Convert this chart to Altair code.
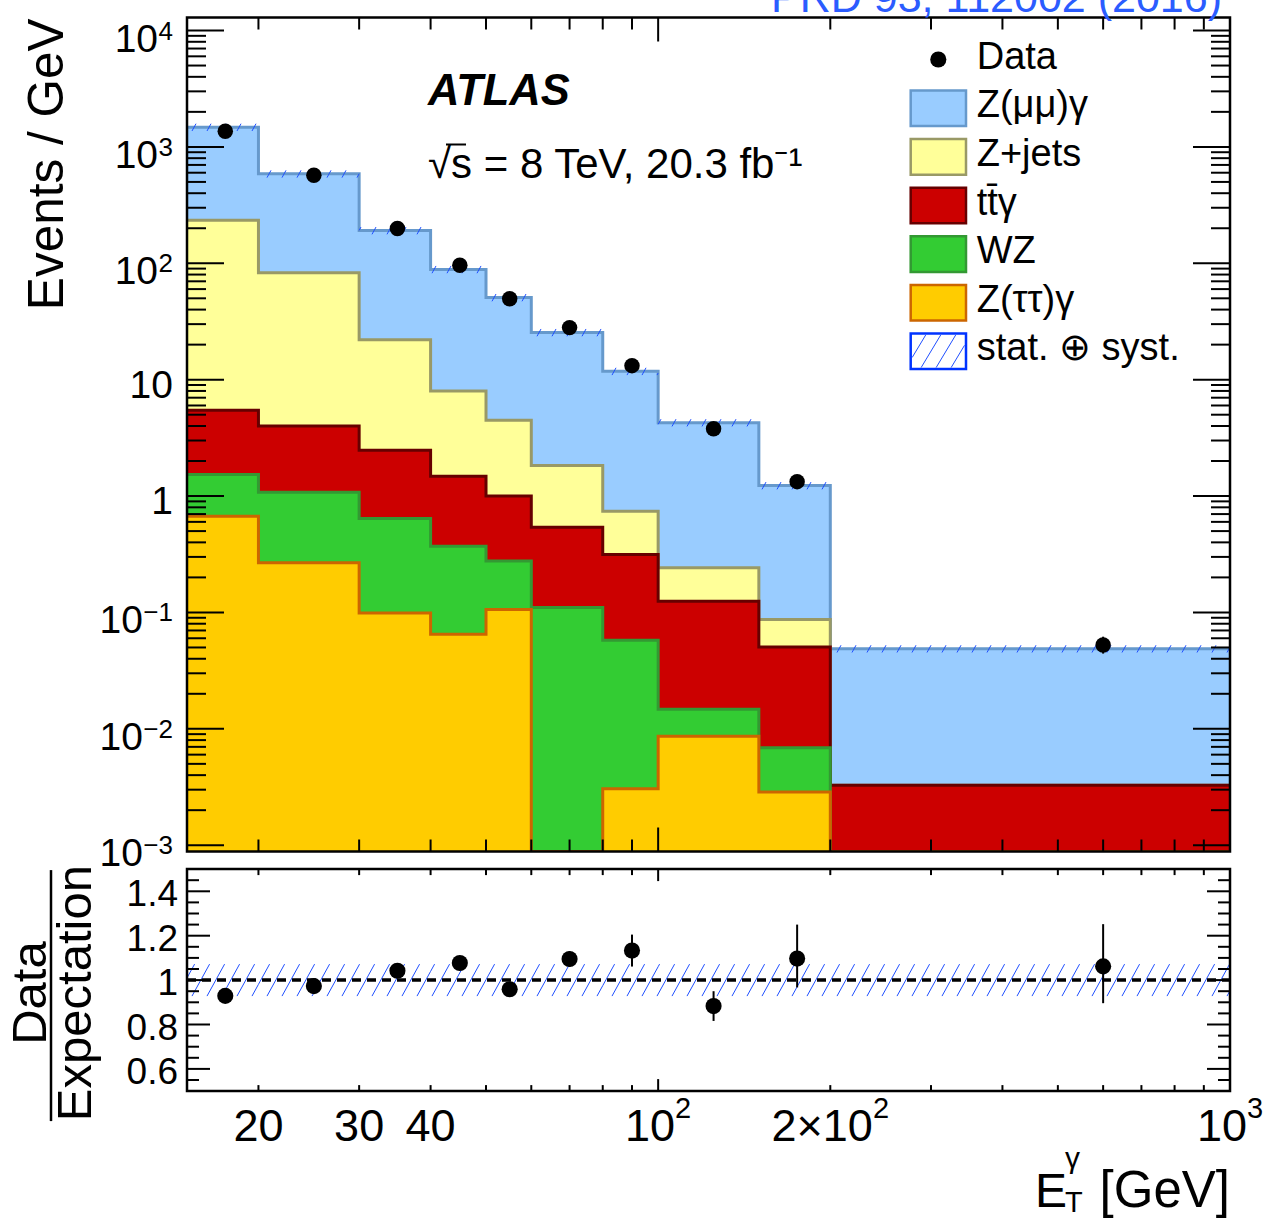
import altair as alt
import numpy as np
import pandas as pd

# ---------------- data ----------------
bin_lo = [15, 20, 30, 40, 50, 60, 80, 100, 150, 200]
bin_hi = [20, 30, 40, 50, 60, 80, 100, 150, 200, 1000]

data_x = [17.5, 25, 35, 45, 55, 70, 90, 125, 175, 600]
data_y = [1365, 571, 199, 96, 49.5, 28, 13.2, 3.79, 1.33, 0.0525]

zmumu = [1242, 504, 169, 80.5, 46.3, 23.6, 11.06, 4.03, 1.143, 0.0455]
zjets = [228.5, 78.8, 19.6, 6.52, 3.49, 1.29, 0.425, 0.117, 0.0366, 0]
ttgam = [3.94, 2.91, 1.84, 1.11, 0.724, 0.43, 0.257, 0.110, 0.0435, 0.00327]
wz = [0.86, 0.813, 0.541, 0.305, 0.17, 0.11, 0.0547, 0.00605, 0.00402, 0]
ztautau = [0.67, 0.267, 0.099, 0.065, 0.106, 0, 0.00306, 0.00865, 0.00286, 0]

ratio_y = [0.929, 0.973, 1.042, 1.077, 0.959, 1.095, 1.133, 0.883, 1.097, 1.062]
ratio_up = [0.010, 0.012, 0.015, 0.020, 0.025, 0.035, 0.072, 0.067, 0.153, 0.190]
ratio_dn = [0.010, 0.012, 0.015, 0.020, 0.025, 0.035, 0.072, 0.067, 0.130, 0.166]
band_rel = [0.072, 0.072, 0.072, 0.072, 0.072, 0.072, 0.072, 0.072, 0.072, 0.072]

y_major_ticks = [1e-3, 1e-2, 1e-1, 1, 10, 100, 1e3, 1e4]
y_label_base = ["10", "10", "10", "1", "10", "10", "10", "10"]
y_label_exp = ["−3", "−2", "−1", "", "", "2", "3", "4"]
x_label_ticks = [20, 30, 40, 100, 200, 1000]
x_label_base = ["20", "30", "40", "10", "2×10", "10"]
x_label_exp = ["", "", "", "2", "2", "3"]
x_major_ticks = [100, 1000]
x_minor_ticks = [20, 30, 40, 50, 60, 70, 80, 90, 200, 300, 400, 500, 600, 700, 800, 900]
r_major_ticks = [0.6, 0.8, 1.0, 1.2, 1.4]
r_labels = ["0.6", "0.8", "1", "1.2", "1.4"]
r_minor_ticks = [0.55, 0.65, 0.7, 0.75, 0.85, 0.9, 0.95, 1.05, 1.1, 1.15, 1.25, 1.3, 1.35, 1.45]

legend_labels = ["Data", "Z(μμ)γ", "Z+jets", "tt̄γ", "WZ", "Z(ττ)γ", "stat. ⊕ syst."]
comp_names = ["Z(μμ)γ", "Z+jets", "tt̄γ", "WZ", "Z(ττ)γ"]
comp_vals = [zmumu, zjets, ttgam, wz, ztautau]
comp_fill = ["#99ccff", "#ffff99", "#cc0000", "#33cc33", "#ffcc00"]
comp_line = ["#6699cc", "#999966", "#660000", "#339933", "#cc6600"]
HATCH = "#1f4fff"

# ---------------- geometry / style ----------------
W, H, H2 = 1043, 834, 222
FONT = "Liberation Sans"
XMIN, XMAX = 15, 1000
YMIN, YMAX = 8.83e-4, 12935
RMIN, RMAX = 0.5, 1.5

xsc = alt.Scale(type="log", domain=[XMIN, XMAX], nice=False)
ysc = alt.Scale(type="log", domain=[YMIN, YMAX], nice=False)
rsc = alt.Scale(domain=[RMIN, RMAX], nice=False, zero=False)

LNX = np.log(XMAX / XMIN)
PX_PER_DEC = H / np.log10(YMAX / YMIN)
CHW = {"×": 0.584, "−": 0.584, "-": 0.333}


def tw(s, size):
    return sum(CHW.get(c, 0.556) for c in s) * size


def xv(p):
    return XMIN * np.exp(p / W * LNX)


def px(x):
    return W * np.log(x / XMIN) / LNX


def hatch_rows(yl, yu, hpx, logy, spacing=15.0, slope=0.55):
    rows = []
    for i in range(len(bin_lo)):
        plo, phi = px(bin_lo[i]), px(bin_hi[i])
        dx = slope * hpx[i]
        for p in np.arange(-40.0, W + 40.0, spacing):
            t0 = max(0.0, (plo - p) / dx)
            t1 = min(1.0, (phi - p) / dx)
            if t1 <= t0:
                continue

            def yof(t):
                if logy:
                    return yl[i] * (yu[i] / yl[i]) ** t
                return yl[i] + t * (yu[i] - yl[i])
            rows.append({"x": xv(p + t0 * dx), "x2": xv(p + t1 * dx),
                         "y": yof(t0), "y2": yof(t1)})
    return pd.DataFrame(rows)


def txt(s, x, y, size, **kw):
    return alt.Chart(pd.DataFrame({"t": [s]})).mark_text(font=FONT, fontSize=size, **kw).encode(
        text="t:N", x=alt.value(x), y=alt.value(y))


def anchor(x, y):
    return alt.Chart(pd.DataFrame({"a": [0]})).mark_rule(opacity=0).encode(
        x=alt.value(x), y=alt.value(y), y2=alt.value(y + 1))


def tick_layers(height, yscale, ymaj, ymin_, ymaj_len, ymin_len, xmaj_len, xmin_len):
    out = []
    for vals, ln in ((ymaj, ymaj_len), (ymin_, ymin_len)):
        d = pd.DataFrame({"v": vals})
        out.append(alt.Chart(d).mark_rule(color="black", strokeWidth=2).encode(
            y=alt.Y("v:Q", scale=yscale, axis=None), x=alt.value(0), x2=alt.value(ln)))
        out.append(alt.Chart(d).mark_rule(color="black", strokeWidth=2).encode(
            y=alt.Y("v:Q", scale=yscale, axis=None), x=alt.value(W - ln), x2=alt.value(W)))
    for vals, ln in ((x_major_ticks, xmaj_len), (x_minor_ticks, xmin_len)):
        d = pd.DataFrame({"v": vals})
        out.append(alt.Chart(d).mark_rule(color="black", strokeWidth=2).encode(
            x=alt.X("v:Q", scale=xsc, axis=None), y=alt.value(0), y2=alt.value(ln)))
        out.append(alt.Chart(d).mark_rule(color="black", strokeWidth=2).encode(
            x=alt.X("v:Q", scale=xsc, axis=None), y=alt.value(height - ln), y2=alt.value(height)))
    out.append(alt.Chart(pd.DataFrame({"a": [0]})).mark_rect(
        fillOpacity=0, stroke="black", strokeWidth=2.5).encode(
        x=alt.value(0), x2=alt.value(W), y=alt.value(0), y2=alt.value(height)))
    return out


# ---------------- main panel ----------------
layers = []
cum = np.zeros(len(bin_lo))
cums = []
for vals in reversed(comp_vals):
    cum = cum + np.array(vals, dtype=float)
    cums.append(cum.copy())
cums = list(reversed(cums))
total = cums[0]

for k in range(len(comp_names)):
    top = np.maximum(cums[k], YMIN)
    df = pd.DataFrame({"x": bin_lo + [bin_hi[-1]], "y": list(top) + [top[-1]],
                       "base": [YMIN] * (len(bin_lo) + 1)})
    layers.append(alt.Chart(df).mark_area(interpolate="step-after", color=comp_fill[k],
                                          opacity=1, clip=True)
                  .encode(x=alt.X("x:Q", scale=xsc, axis=None),
                          y=alt.Y("y:Q", scale=ysc, axis=None), y2="base:Q"))
    layers.append(alt.Chart(df).mark_line(interpolate="step-after", color=comp_line[k],
                                          strokeWidth=3, clip=True)
                  .encode(x=alt.X("x:Q", scale=xsc, axis=None), y=alt.Y("y:Q", scale=ysc, axis=None)))

# hatch on top of the stack
yl = [t * (1 - u) for t, u in zip(total, band_rel)]
yu = [t * (1 + u) for t, u in zip(total, band_rel)]
hpx = [PX_PER_DEC * np.log10(b / a) for a, b in zip(yl, yu)]
hdf = hatch_rows(yl, yu, hpx, True)
layers.append(alt.Chart(hdf).mark_rule(color=HATCH, strokeWidth=1, clip=True).encode(
    x=alt.X("x:Q", scale=xsc, axis=None), x2="x2:Q",
    y=alt.Y("y:Q", scale=ysc, axis=None), y2="y2:Q"))

# data points
rel_up = [e / r for e, r in zip(ratio_up, ratio_y)]
rel_dn = [e / r for e, r in zip(ratio_dn, ratio_y)]
ddf = pd.DataFrame({"x": data_x, "y": data_y,
                    "lo": [y * (1 - d) for y, d in zip(data_y, rel_dn)],
                    "hi": [y * (1 + u) for y, u in zip(data_y, rel_up)]})
layers.append(alt.Chart(ddf).mark_rule(color="black", strokeWidth=2).encode(
    x=alt.X("x:Q", scale=xsc, axis=None), y=alt.Y("lo:Q", scale=ysc, axis=None), y2="hi:Q"))
layers.append(alt.Chart(ddf).mark_circle(color="black", opacity=1, size=240).encode(
    x=alt.X("x:Q", scale=xsc, axis=None), y=alt.Y("y:Q", scale=ysc, axis=None)))

y_minor_ticks = [m * 10.0 ** e for e in range(-3, 4) for m in range(2, 10)]
layers += tick_layers(H, ysc, y_major_ticks, y_minor_ticks, 37, 19, 24, 12)

# y tick labels (main): plain ones and power-of-ten ones with raised exponents
YL_FS, YE_FS, YL_X = 39, 26, -14
lab = pd.DataFrame({"v": y_major_ticks, "b": y_label_base, "e": y_label_exp})
plain = lab[lab["e"] == ""]
power = lab[lab["e"] != ""].copy()
power["bx"] = [YL_X - tw(e, YE_FS) - 0.5 for e in power["e"]]
layers.append(alt.Chart(plain).mark_text(
    font=FONT, fontSize=YL_FS, align="right", baseline="alphabetic", dy=18, color="black").encode(
    y=alt.Y("v:Q", scale=ysc, axis=None), x=alt.value(YL_X), text="b:N"))
layers.append(alt.Chart(power).mark_text(
    font=FONT, fontSize=YL_FS, align="right", baseline="alphabetic", dy=21, color="black").encode(
    y=alt.Y("v:Q", scale=ysc, axis=None), x=alt.X("bx:Q", scale=None), text="b:N"))
layers.append(alt.Chart(power).mark_text(
    font=FONT, fontSize=YE_FS, align="right", baseline="alphabetic", dy=9, color="black").encode(
    y=alt.Y("v:Q", scale=ysc, axis=None), x=alt.value(YL_X), text="e:N"))

# legend
LX0, LX1 = 723.7, 779.0
rows = []
for i, lb in enumerate(legend_labels[1:]):
    cy = 90.8 + i * 48.6
    if i < 5:
        f, s = comp_fill[i], comp_line[i]
    else:
        f, s = "#ffffff", "#0033ff"
    rows.append({"label": lb, "x0": LX0, "x1": LX1, "y0": cy - 17.8, "y1": cy + 17.8,
                 "ty": cy + 9, "fill": f, "stroke": s})
ldf = pd.DataFrame(rows)
layers.append(alt.Chart(ldf).mark_rect(strokeWidth=2.5).encode(
    x=alt.X("x0:Q", scale=None), x2="x1:Q", y=alt.Y("y0:Q", scale=None), y2="y1:Q",
    fill=alt.Fill("fill:N", scale=None), stroke=alt.Stroke("stroke:N", scale=None)))
by0, by1 = rows[-1]["y0"], rows[-1]["y1"]
bdx = 0.55 * (by1 - by0)
lh = []
for p in np.arange(LX0 - bdx, LX1, 15.0):
    t0 = max(0.0, (LX0 + 1.5 - p) / bdx)
    t1 = min(1.0, (LX1 - 1.5 - p) / bdx)
    if t1 > t0:
        lh.append({"x": p + t0 * bdx, "x2": p + t1 * bdx,
                   "y": by1 - 1.5 - t0 * (by1 - by0 - 3), "y2": by1 - 1.5 - t1 * (by1 - by0 - 3)})
layers.append(alt.Chart(pd.DataFrame(lh)).mark_rule(color=HATCH, strokeWidth=1).encode(
    x=alt.X("x:Q", scale=None), x2="x2:Q", y=alt.Y("y:Q", scale=None), y2="y2:Q"))
layers.append(alt.Chart(pd.DataFrame({"label": ["Data"]})).mark_circle(
    color="black", opacity=1, size=260).encode(x=alt.value(751.3), y=alt.value(42)))
ltxt = pd.DataFrame({"label": legend_labels, "ty": [51.3] + list(ldf["ty"])})
layers.append(alt.Chart(ltxt).mark_text(align="left", baseline="alphabetic", font=FONT,
                                        fontSize=38, color="black").encode(
    x=alt.value(789.7), y=alt.Y("ty:Q", scale=None), text="label:N"))

layers.append(txt("ATLAS", 241, 87, 43.5, align="left", baseline="alphabetic",
                  fontStyle="italic", fontWeight="bold", color="black"))
layers.append(txt("√s = 8 TeV, 20.3 fb⁻¹", 241, 160, 42, align="left", baseline="alphabetic",
                  color="black"))
# bar of the square root over "s"
layers.append(alt.Chart(pd.DataFrame({"a": [0]})).mark_rule(color="black", strokeWidth=2).encode(
    x=alt.value(259), x2=alt.value(279), y=alt.value(127)))
layers.append(txt("PRD 93, 112002 (2016)", 1035, -6, 43, align="right", baseline="alphabetic",
                  color="#2b5cff"))
layers.append(txt("Events / GeV", -124, 1, 49.5, align="right", baseline="alphabetic",
                  angle=270, color="black"))
layers.append(anchor(-187, -60))

main = alt.layer(*layers).properties(width=W, height=H)

# ---------------- ratio panel ----------------
rl = []
ryl = [1 - u for u in band_rel]
ryu = [1 + u for u in band_rel]
rhpx = [H2 * (b - a) / (RMAX - RMIN) for a, b in zip(ryl, ryu)]
rhdf = hatch_rows(ryl, ryu, rhpx, False)
rl.append(alt.Chart(rhdf).mark_rule(color=HATCH, strokeWidth=1, clip=True).encode(
    x=alt.X("x:Q", scale=xsc, axis=None), x2="x2:Q",
    y=alt.Y("y:Q", scale=rsc, axis=None), y2="y2:Q"))
rl.append(alt.Chart(pd.DataFrame({"y": [1.0]})).mark_rule(color="black", strokeWidth=3.5,
                                                          strokeDash=[9, 6]).encode(
    y=alt.Y("y:Q", scale=rsc, axis=None), x=alt.value(0), x2=alt.value(W)))
rdf = pd.DataFrame({"x": data_x, "y": ratio_y,
                    "lo": [r - d for r, d in zip(ratio_y, ratio_dn)],
                    "hi": [r + u for r, u in zip(ratio_y, ratio_up)]})
rl.append(alt.Chart(rdf).mark_rule(color="black", strokeWidth=2).encode(
    x=alt.X("x:Q", scale=xsc, axis=None), y=alt.Y("lo:Q", scale=rsc, axis=None), y2="hi:Q"))
rl.append(alt.Chart(rdf).mark_circle(color="black", opacity=1, size=260).encode(
    x=alt.X("x:Q", scale=xsc, axis=None), y=alt.Y("y:Q", scale=rsc, axis=None)))
rl += tick_layers(H2, rsc, r_major_ticks, r_minor_ticks, 23, 12, 12, 6)

# tick labels (ratio)
rl.append(alt.Chart(pd.DataFrame({"v": r_major_ticks, "lab": r_labels})).mark_text(
    font=FONT, fontSize=37, align="right", baseline="alphabetic", dy=15, color="black").encode(
    y=alt.Y("v:Q", scale=rsc, axis=None), x=alt.value(-9), text="lab:N"))
XL_FS, XE_FS = 45, 29
xlab = pd.DataFrame({"v": x_label_ticks, "b": x_label_base, "e": x_label_exp})
rl.append(alt.Chart(xlab[xlab["e"] == ""]).mark_text(
    font=FONT, fontSize=XL_FS, align="center", baseline="alphabetic", color="black").encode(
    x=alt.X("v:Q", scale=xsc, axis=None), y=alt.value(H2 + 50), text="b:N"))
for i in range(len(x_label_ticks)):
    if not x_label_exp[i]:
        continue
    wb, we = tw(x_label_base[i], XL_FS), tw(x_label_exp[i], XE_FS)
    off = (wb + we) / 2 - we
    one = xlab.iloc[[i]]
    rl.append(alt.Chart(one).mark_text(
        font=FONT, fontSize=XL_FS, align="right", baseline="alphabetic", dx=off,
        color="black").encode(x=alt.X("v:Q", scale=xsc, axis=None), y=alt.value(H2 + 50),
                              text="b:N"))
    rl.append(alt.Chart(one).mark_text(
        font=FONT, fontSize=XE_FS, align="left", baseline="alphabetic", dx=off,
        color="black").encode(x=alt.X("v:Q", scale=xsc, axis=None), y=alt.value(H2 + 27),
                              text="e:N"))

rl.append(txt("Data", -141, 124, 49, align="center", baseline="alphabetic", angle=270, color="black"))
rl.append(txt("Expectation", -96, 124, 49, align="center", baseline="alphabetic", angle=270,
              color="black"))
rl.append(alt.Chart(pd.DataFrame({"a": [0]})).mark_rule(color="black", strokeWidth=2.5).encode(
    x=alt.value(-136), y=alt.value(1), y2=alt.value(252)))
rl.append(txt("E", 848, 338, 48, align="left", baseline="alphabetic", color="black"))
rl.append(txt("T", 878, 343, 29, align="left", baseline="alphabetic", color="black"))
rl.append(txt("γ", 878, 299, 30, align="left", baseline="alphabetic", color="black"))
rl.append(txt("[GeV]", W, 338, 51, align="right", baseline="alphabetic", color="black"))
rl.append(anchor(-187, 100))

ratio = alt.layer(*rl).properties(width=W, height=H2)

chart = alt.vconcat(main, ratio, spacing=17.6, bounds="flush").properties(
    padding={"left": 0, "top": -42.5, "right": 5, "bottom": 0}
).configure_view(strokeWidth=0)

chart.save("out.html", embed_options={"renderer": "svg", "actions": False})
